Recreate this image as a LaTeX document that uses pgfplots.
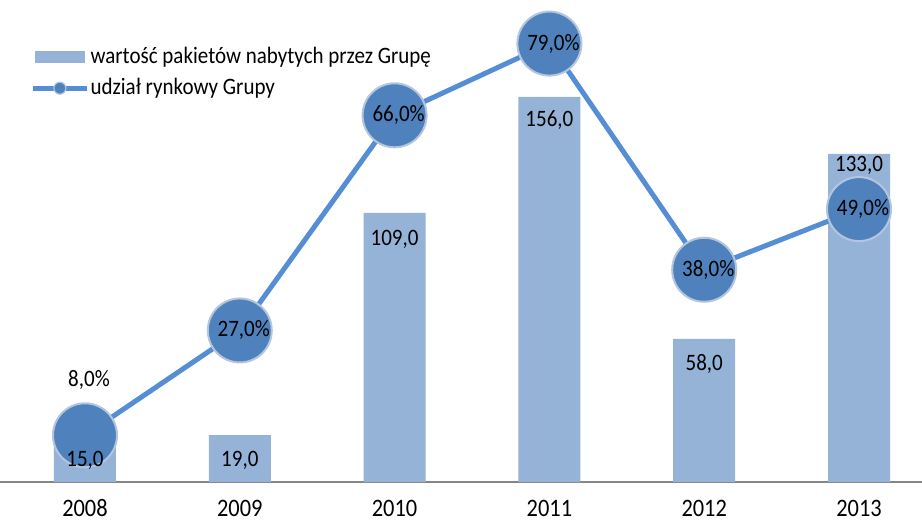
\documentclass[border=0pt]{standalone}
\usepackage{fontspec}
\setmainfont{Carlito}
\usepackage{graphicx}
\usepackage{pgfplots}
\pgfplotsset{compat=1.18}
\definecolor{barcol}{HTML}{95B3D7}
\definecolor{linecol}{HTML}{558ED5}
\definecolor{markfill}{HTML}{4F81BD}
\definecolor{markedge}{HTML}{B4C5DE}
\definecolor{axisgray}{HTML}{868686}
\newcommand\lbl{\fontsize{10.5}{12.5}\selectfont}
\newcommand\tck{\fontsize{11.2}{13}\selectfont}
\newcommand\st[1]{\scalebox{1}[1.12]{#1}}
\pgfplotsset{
  common/.style={at={(0,0)}, anchor=south west, width=461pt, height=241pt, scale only axis, xmin=-0.549, xmax=5.407, clip=false},
}
\begin{document}
\begin{tikzpicture}
\path[use as bounding box] (0,-19.5pt) rectangle (461pt,241pt);
\begin{axis}[common, ymin=0, ymax=195.3,
  axis x line*=bottom, axis y line=none,
  x axis line style={draw=axisgray, line width=1pt},
  xtick={0,1,2,3,4,5}, xticklabels={\st{2008},\st{2009},\st{2010},\st{2011},\st{2012},\st{2013}},
  major tick length=0pt,
  xticklabel style={anchor=base, yshift=-17.4pt, font=\tck},
  legend cell align=left,
  legend style={draw=none, fill=none, at={(0.0325,0.905)}, anchor=north west, font=\lbl, row sep=5pt, inner xsep=0pt, inner ysep=0pt, nodes={inner xsep=0.6pt, inner ysep=0.5pt}},
]
\addplot[ybar, bar width=31pt, fill=barcol, draw=none, area legend,
  legend image code/.code={\fill[barcol] (1pt,-3pt) rectangle (26pt,3pt);}]
  coordinates {(0,15) (1,19) (2,109) (3,156) (4,58) (5,133)};
\addlegendentry{\st{wartość pakietów nabytych przez Grupę}}
\addlegendimage{legend image code/.code={\draw[linecol, line width=2.5pt] (0pt,0pt) -- (27pt,0pt); \filldraw[fill=markfill, draw=markedge, line width=0.6pt] (13.5pt,0pt) circle (3pt);}}
\addlegendentry{\st{udział rynkowy Grupy}}
\end{axis}
\begin{axis}[common, ymin=-0.47, ymax=86.9, hide axis]
\addplot[linecol, line width=2.5pt, mark=*, mark size=16pt,
  mark options={fill=markfill, draw=markedge, line width=1pt}]
  coordinates {(0,8) (1,27) (2,66) (3,79) (4,38) (5,49)};
\addplot[draw=none, mark=none, point meta=y,
  nodes near coords={\st{\pgfmathprintnumber[fixed,fixed zerofill,precision=1,use comma,assume math mode=true]{\pgfplotspointmeta}\%}},
  visualization depends on=value \thisrow{off} \as \off,
  every node near coord/.append style={anchor=center, yshift=\off pt, xshift=2pt, font=\lbl, text=black}]
  table[x=x, y=y] {
x y off
0 8 27.5
1 27 0
2 66 0
3 79 0
4 38 0
5 49 0
};
\end{axis}
\begin{axis}[common, ymin=0, ymax=195.3, hide axis]
\addplot[draw=none, mark=none, point meta=y,
  nodes near coords={\st{\pgfmathprintnumber[fixed,fixed zerofill,precision=1,use comma,assume math mode=true]{\pgfplotspointmeta}}},
  visualization depends on=value \thisrow{off} \as \off,
  every node near coord/.append style={anchor=center, yshift=-\off pt, font=\lbl, text=black}]
  table[x=x, y=y] {
x y off
0 15 7.5
1 19 12.5
2 109 13
3 156 11.5
4 58 12.5
5 133 6
};
\end{axis}
\end{tikzpicture}
\end{document}
